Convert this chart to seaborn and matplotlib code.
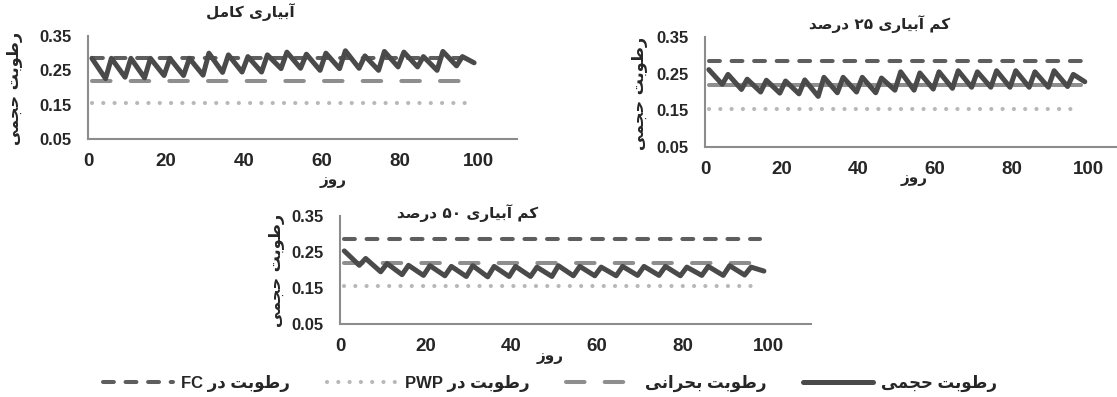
import matplotlib
matplotlib.use("Agg")
import matplotlib.pyplot as plt
import seaborn as sns

# days at the zig-zag vertices (irrigation every 5 days)
days = [1, 4.5, 6, 9.5, 11, 14.5, 16, 19.5, 21, 24.5, 26, 29.5, 31, 34.5, 36, 39.5,
        41, 44.5, 46, 49.5, 51, 54.5, 56, 59.5, 61, 64.5, 66, 69.5, 71, 74.5, 76, 79.5,
        81, 84.5, 86, 89.5, 91, 94.5, 96, 99]

full_irr = [0.285, 0.226, 0.285, 0.230, 0.285, 0.228, 0.285, 0.235, 0.285, 0.235,
            0.285, 0.236, 0.300, 0.244, 0.295, 0.245, 0.290, 0.245, 0.295, 0.255,
            0.303, 0.256, 0.297, 0.250, 0.300, 0.255, 0.307, 0.256, 0.292, 0.250,
            0.305, 0.260, 0.303, 0.260, 0.290, 0.250, 0.305, 0.263, 0.290, 0.272]

deficit_25 = [0.261, 0.221, 0.248, 0.207, 0.235, 0.200, 0.232, 0.197, 0.230, 0.195,
              0.233, 0.188, 0.240, 0.198, 0.240, 0.200, 0.240, 0.198, 0.238, 0.205,
              0.255, 0.205, 0.252, 0.208, 0.255, 0.210, 0.258, 0.213, 0.255, 0.213,
              0.258, 0.213, 0.258, 0.213, 0.255, 0.213, 0.258, 0.215, 0.248, 0.228]

deficit_50 = [0.253, 0.213, 0.232, 0.195, 0.218, 0.187, 0.213, 0.185, 0.212, 0.184,
              0.210, 0.182, 0.212, 0.181, 0.210, 0.182, 0.210, 0.182, 0.208, 0.182,
              0.212, 0.184, 0.210, 0.184, 0.208, 0.184, 0.210, 0.185, 0.210, 0.185,
              0.210, 0.184, 0.208, 0.185, 0.210, 0.185, 0.212, 0.186, 0.208, 0.197]

ref_days = [1, 98]
fc_value = 0.285
pwp_value = 0.155
crit_value = 0.22

x_ticks = [0, 20, 40, 60, 80, 100]
y_ticks = [0.05, 0.15, 0.25, 0.35]

titles = ["آبیاری کامل", "کم آبیاری ۲۵ درصد", "کم آبیاری ۵۰ درصد"]
ylab = "رطوبت حجمی"
xlab = "روز"
lab_series = "رطوبت حجمی"
lab_fc = "رطوبت در FC"
lab_pwp = "رطوبت در PWP"
lab_crit = "رطوبت بحرانی"

# minimal persian shaping (matplotlib has no bidi / joining)
FORMS = {
    'ا': ('\ufe8d', '\ufe8e', None, None),
    'آ': ('\ufe81', '\ufe82', None, None),
    'ب': ('\ufe8f', '\ufe90', '\ufe91', '\ufe92'),
    'ت': ('\ufe95', '\ufe96', '\ufe97', '\ufe98'),
    'ج': ('\ufe9d', '\ufe9e', '\ufe9f', '\ufea0'),
    'ح': ('\ufea1', '\ufea2', '\ufea3', '\ufea4'),
    'د': ('\ufea9', '\ufeaa', None, None),
    'ر': ('\ufead', '\ufeae', None, None),
    'ز': ('\ufeaf', '\ufeb0', None, None),
    'ص': ('\ufeb9', '\ufeba', '\ufebb', '\ufebc'),
    'ط': ('\ufec1', '\ufec2', '\ufec3', '\ufec4'),
    'ک': ('\ufb8e', '\ufb8f', '\ufb90', '\ufb91'),
    'ل': ('\ufedd', '\ufede', '\ufedf', '\ufee0'),
    'م': ('\ufee1', '\ufee2', '\ufee3', '\ufee4'),
    'ن': ('\ufee5', '\ufee6', '\ufee7', '\ufee8'),
    'و': ('\ufeed', '\ufeee', None, None),
    'ی': ('\ufbfc', '\ufbfd', '\ufbfe', '\ufbff'),
}


def fa(text):
    out = []
    for i, ch in enumerate(text):
        f = FORMS.get(ch)
        if f is None:
            out.append(ch)
            continue
        prev = FORMS.get(text[i - 1]) if i > 0 else None
        nxt = FORMS.get(text[i + 1]) if i < len(text) - 1 else None
        jp = prev is not None and prev[2] is not None
        jn = f[2] is not None and nxt is not None
        if jp and jn:
            out.append(f[3])
        elif jp:
            out.append(f[1])
        elif jn:
            out.append(f[2])
        else:
            out.append(f[0])
    vis = out[::-1]
    res, run = [], []
    for ch in vis:
        if (ch.isascii() and ch.isalnum()) or '\u06f0' <= ch <= '\u06f9':
            run.append(ch)
        else:
            if run:
                res.extend(run[::-1])
                run = []
            res.append(ch)
    if run:
        res.extend(run[::-1])
    return "".join(res)


sns.set_theme(style="white")
plt.rcParams["font.family"] = ["Liberation Sans", "DejaVu Sans"]
plt.rcParams["font.weight"] = "bold"

C_SER = "#4a4a4a"
C_FC = "#5e5e5e"
C_CRIT = "#8e8e8e"
C_PWP = "#b8b8b8"
FC_LS = (0, (2.7, 2.9))
CRIT_LS = (0, (4.6, 5.0))
PWP_LS = (0, (0.01, 2.7))

fig = plt.figure(figsize=(11.17, 3.97), dpi=100)
W, H = 1117, 397


def px_axes(left, right, top, bottom):
    return fig.add_axes([left / W, 1 - bottom / H, (right - left) / W, (bottom - top) / H])


ax1 = px_axes(88, 517, 36, 139)
ax2 = px_axes(705, 1127, 37, 147)
ax3 = px_axes(340, 811, 216, 324)

series = [full_irr, deficit_25, deficit_50]
axes = [ax1, ax2, ax3]

for k, (ax, vals) in enumerate(zip(axes, series)):
    sns.lineplot(x=ref_days, y=[fc_value, fc_value], ax=ax, color=C_FC, lw=2.9,
                 linestyle=FC_LS, dash_capstyle="round", label=fa(lab_fc))
    sns.lineplot(x=ref_days, y=[pwp_value, pwp_value], ax=ax, color=C_PWP, lw=3.0,
                 linestyle=PWP_LS, dash_capstyle="round", label=fa(lab_pwp))
    crit_ls = "-" if k == 1 else CRIT_LS
    sns.lineplot(x=ref_days, y=[crit_value, crit_value], ax=ax, color=C_CRIT, lw=2.9,
                 linestyle=crit_ls, dash_capstyle="round", label=fa(lab_crit))
    sns.lineplot(x=days, y=vals, ax=ax, color=C_SER, lw=3.6,
                 solid_joinstyle="round", solid_capstyle="round", label=fa(lab_series))
    ax.set_xlim(0, 110)
    ax.set_ylim(0.05, 0.35)
    ax.set_xticks(x_ticks)
    ax.set_yticks(y_ticks)
    ax.set_yticklabels([f"{v:.2f}" for v in y_ticks], fontsize=12, fontweight="bold")
    ax.set_xticklabels([str(v) for v in x_ticks], fontsize=13.5, fontweight="bold")
    ax.tick_params(length=0, pad=12)
    ax.tick_params(axis="x", pad=10)
    for s in ["top", "right"]:
        ax.spines[s].set_visible(False)
    for s in ["left", "bottom"]:
        ax.spines[s].set_color("#8c8c8c")
        ax.spines[s].set_linewidth(1.5)
    ax.get_legend().remove()
    ax.set_xlabel("")
    ax.set_ylabel("")

# titles
fig.text(250 / W, 1 - 12 / H, fa(titles[0]), ha="center", va="center", fontsize=11,
         fontweight="bold", family="DejaVu Sans")
fig.text(880 / W, 1 - 24 / H, fa(titles[1]), ha="center", va="center", fontsize=11,
         fontweight="bold", family="DejaVu Sans")
fig.text(468 / W, 1 - 213 / H, fa(titles[2]), ha="center", va="center", fontsize=11,
         fontweight="bold", family="DejaVu Sans")

# y labels
for x, y in [(15, 88), (640, 93), (277, 270)]:
    fig.text(x / W, 1 - y / H, fa(ylab), rotation=90, ha="center", va="center",
             fontsize=11.5, fontweight="bold", family="DejaVu Sans")

# x labels
for x, y in [(333, 180), (914, 178), (550, 356)]:
    fig.text(x / W, 1 - y / H, fa(xlab), ha="center", va="center",
             fontsize=11, fontweight="bold", family="DejaVu Sans")

handles, labels = ax1.get_legend_handles_labels()
leg = fig.legend(handles, labels,
                 loc="center", bbox_to_anchor=(550 / W, 1 - 383 / H), ncol=4,
                 frameon=False, handlelength=4.2, handletextpad=0.5, columnspacing=2.2,
                 prop={"size": 12, "weight": "bold"})

fig.savefig("out.png", dpi=100)
